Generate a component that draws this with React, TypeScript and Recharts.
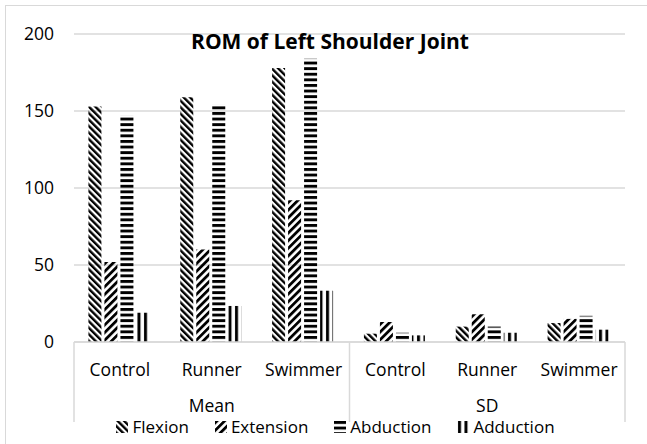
import React from 'react';
import { BarChart, Bar, XAxis, YAxis, CartesianGrid, Legend } from 'recharts';

const categories = ['Control', 'Runner', 'Swimmer', 'Control', 'Runner', 'Swimmer'];
const groups = ['Mean', 'Mean', 'Mean', 'SD', 'SD', 'SD'];
const flexion = [153, 159, 178, 5.4, 10, 12.3];
const extension = [52, 60, 92, 13, 18, 15];
const abduction = [147, 154, 184, 6, 10, 17];
const adduction = [19, 23.4, 33.3, 4.3, 6, 8];
const yTicks = [0, 50, 100, 150, 200];
const seriesNames = ['Flexion', 'Extension', 'Abduction', 'Adduction'];
const patternIds = ['pFlex', 'pExt', 'pAbd', 'pAdd'];

const W = 647;
const H = 444;
const M = { top: 34, right: 22, left: 14, bottom: 22 };
const Y_AXIS_W = 60;
const X_AXIS_H = 80;
const PLOT_LEFT = M.left + Y_AXIS_W;
const PLOT_W = W - PLOT_LEFT - M.right;
const AXIS_Y = H - M.bottom - X_AXIS_H;
const BAND = PLOT_W / categories.length;

const FONT = '"Open Sans", sans-serif';
const GRID = '#d9d9d9';

const data = categories.map((name, i) => ({
  name,
  group: groups[i],
  Flexion: flexion[i],
  Extension: extension[i],
  Abduction: abduction[i],
  Adduction: adduction[i],
}));

const Patterns = () => (
  <defs>
    <pattern id="pFlex" width="4.6" height="4.6" patternUnits="userSpaceOnUse" patternTransform="rotate(-45)">
      <rect width="2.4" height="4.6" fill="#000" />
    </pattern>
    <pattern id="pExt" width="5.4" height="5.4" patternUnits="userSpaceOnUse" patternTransform="rotate(45)">
      <rect width="2.8" height="5.4" fill="#000" />
    </pattern>
    <pattern id="pAbd" width="6" height="5.6" patternUnits="userSpaceOnUse">
      <rect width="6" height="2.9" fill="#000" />
    </pattern>
    <pattern id="pAdd" width="6.5" height="6" patternUnits="userSpaceOnUse">
      <rect x="1" width="3" height="6" fill="#000" />
    </pattern>
  </defs>
);

const XTick = (props: any) => {
  const { x, payload } = props;
  const i = payload.index;
  return (
    <g>
      <text x={x} y={AXIS_Y + 34} textAnchor="middle" fontFamily={FONT} fontSize={17.5} fill="#000">
        {payload.value}
      </text>
      {i % 3 === 1 && (
        <text x={x} y={AXIS_Y + 70} textAnchor="middle" fontFamily={FONT} fontSize={17.5} fill="#000">
          {groups[i]}
        </text>
      )}
      {i === 0 && <line x1={x - BAND / 2} x2={x - BAND / 2} y1={AXIS_Y} y2={AXIS_Y + 80} stroke={GRID} strokeWidth={1.5} />}
      {i % 3 === 2 && <line x1={x + BAND / 2} x2={x + BAND / 2} y1={AXIS_Y} y2={AXIS_Y + 80} stroke={GRID} strokeWidth={1.5} />}
    </g>
  );
};

const YTick = (props: any) => {
  const { y, payload } = props;
  return (
    <text x={PLOT_LEFT - 20} y={y} dy={6} textAnchor="end" fontFamily={FONT} fontSize={17.5} fill="#000">
      {payload.value}
    </text>
  );
};

const LegendContent = () => (
  <div style={{ display: 'flex', justifyContent: 'center', gap: 26, fontFamily: FONT, fontSize: 17, color: '#000', lineHeight: '15px' }}>
    {seriesNames.map((s, i) => (
      <div key={s} style={{ display: 'flex', alignItems: 'center', gap: 4 }}>
        <svg width={12} height={12}>
          <rect width={12} height={12} fill={`url(#${patternIds[i]})`} />
        </svg>
        <span>{s}</span>
      </div>
    ))}
  </div>
);

export default function App() {
  return (
    <div style={{ position: 'absolute', left: 0, top: 0, width: W, height: H, background: '#fff', overflow: 'hidden' }}>
      <div style={{ position: 'absolute', left: 5, top: 5, width: W - 5, height: H - 5, borderTop: `1.5px solid ${GRID}`, borderLeft: `1.5px solid ${GRID}`, boxSizing: 'border-box' }} />
      <BarChart width={W} height={H} data={data} margin={M} barCategoryGap="15.7%" barGap={3}>
        <Patterns />
        <CartesianGrid vertical={false} stroke={GRID} strokeWidth={1.5} />
        <XAxis dataKey="name" height={X_AXIS_H} interval={0} tick={<XTick />} tickLine={false} axisLine={{ stroke: GRID, strokeWidth: 1.5 }} />
        <YAxis width={Y_AXIS_W} domain={[0, 200]} ticks={yTicks} tick={<YTick />} tickLine={false} axisLine={false} />
        <Legend
          layout="horizontal"
          verticalAlign="middle"
          align="center"
          content={<LegendContent />}
          wrapperStyle={{ top: 419, left: 12, width: W }}
        />
        {seriesNames.map((s, i) => (
          <Bar key={s} dataKey={s} fill={`url(#${patternIds[i]})`} isAnimationActive={false} />
        ))}
        <text x={330} y={49} textAnchor="middle" fontFamily={FONT} fontWeight="bold" fontSize={21} fill="#000">
          ROM of Left Shoulder Joint
        </text>
      </BarChart>
    </div>
  );
}
